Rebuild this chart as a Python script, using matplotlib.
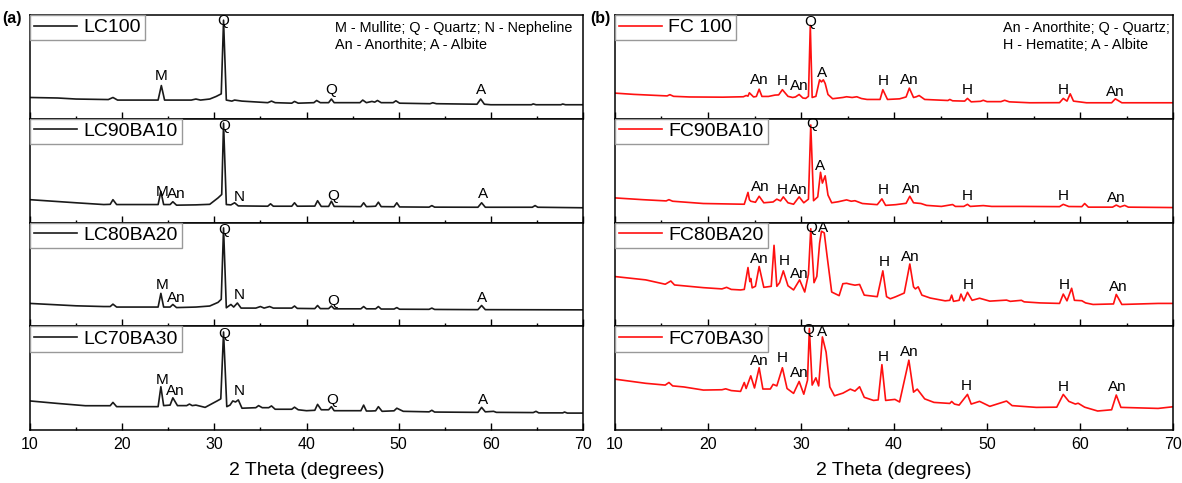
import matplotlib
matplotlib.use("Agg")
import matplotlib.pyplot as plt

plt.rcParams['font.family'] = ['Liberation Sans', 'DejaVu Sans']

# ---------------- data (2θ in degrees, intensity in % of panel height) ----------------
lc100_x = [10, 13, 15, 18.5, 19.0, 19.5, 23.9, 24.25, 24.6, 27.5, 28.0, 28.5, 29.5, 30.2, 30.75, 31.0, 31.3, 31.9, 32.2, 33,
           35.8, 36.2, 36.6, 38.4, 38.7, 39.1, 40.8, 41.1, 41.5, 42.4, 42.7, 43.0, 45.8, 46.1, 46.5, 47.1, 47.4, 47.7, 48.1,
           49.4, 49.7, 50.1, 53.4, 53.7, 54.1, 58.5, 58.9, 59.3, 60, 64.4, 64.6, 64.9, 67.6, 67.8, 68.1, 70]
lc100_y = [20.5, 20, 19, 18.5, 20.5, 18, 18, 32, 18, 18, 19, 18, 19, 21.5, 24, 95, 18, 17, 18, 17,
           15.5, 17, 15.5, 15, 16.7, 15, 15.5, 17.6, 15.5, 15.5, 19, 15.5, 15.5, 18, 15.5, 16.7, 16, 17.6, 15.5,
           15.5, 17.3, 15, 14.5, 15.4, 14.5, 14, 19, 14, 13.5, 13.5, 14.3, 13.5, 13.5, 14.2, 13.5, 13.5]

lc90_x = [10, 15, 18, 18.7, 19.0, 19.4, 23.9, 24.2, 24.5, 25.2, 25.5, 25.9, 28, 29.5, 30.4, 30.8, 31.0, 31.3, 31.8, 32.2,
          32.6, 35.8, 36.1, 36.4, 38.4, 38.7, 39.0, 40.9, 41.2, 41.6, 42.4, 42.7, 43.0, 45.9, 46.2, 46.5, 47.1, 47.5, 47.8,
          48.1, 49.5, 49.8, 50.1, 53.3, 53.6, 53.9, 58.6, 59.0, 59.4, 64.5, 64.8, 65.1, 70]
lc90_y = [22, 19, 17.3, 17.5, 22, 17.3, 17.3, 30, 17.3, 17.3, 20, 16.7, 17, 17.5, 23.7, 27, 95.8, 17.3, 17, 19,
          16, 15.7, 18, 15.7, 15.7, 19, 15.7, 15.8, 21, 15.5, 15.5, 20.5, 15.5, 15.3, 19, 15.3, 15.5, 15.7, 19.6,
          15.3, 15.2, 19, 15, 14.8, 16.3, 14.8, 14.7, 19, 14.7, 14.7, 16.3, 14.7, 14.2]

lc80_x = [10, 15, 18, 18.7, 19.0, 19.4, 23.9, 24.2, 24.5, 25.2, 25.5, 25.9, 28, 29.5, 30.4, 30.75, 31.0, 31.3, 31.8, 32.1,
          32.5, 32.9, 34.5, 35.0, 35.4, 36.0, 36.4, 38.4, 38.7, 39.0, 40.9, 41.2, 41.5, 42.4, 42.7, 43.0, 45.9, 46.2, 46.5,
          47.5, 47.8, 48.1, 49.5, 49.8, 50.1, 53.3, 53.6, 53.9, 58.6, 59.0, 59.4, 70]
lc80_y = [22, 19.7, 19, 19, 21.3, 18.5, 18.5, 31.7, 18.5, 18.5, 21, 18, 18.5, 19.5, 23, 26, 94.8, 17.8, 21, 18.5,
          22.4, 17.5, 17.5, 19, 17.5, 19, 17.5, 17.5, 19.5, 17.2, 17, 20, 17, 17, 19.5, 16.8, 16.8, 19, 16.8,
          16.8, 19, 16.6, 16.6, 18, 16.4, 16.3, 17.5, 16.2, 16, 20, 16, 15.8]

lc70_x = [10, 13, 16, 18.7, 19.0, 19.4, 22, 23.9, 24.2, 24.5, 25.2, 25.5, 26.0, 27.0, 27.3, 27.6, 28.0, 29.0, 30.3, 30.7,
          31.0, 31.35, 31.7, 32.0, 32.3, 32.6, 33.0, 34.5, 34.8, 35.2, 35.9, 36.2, 36.6, 38.4, 38.7, 39.1, 40.0, 40.9,
          41.2, 41.6, 42.4, 42.7, 43.0, 45.9, 46.2, 46.5, 47.0, 47.5, 47.8, 48.2, 49.5, 49.8, 50.5, 53.3, 53.6, 53.9,
          58.6, 59.0, 59.4, 60.3, 60.6, 64.6, 64.9, 65.2, 67.8, 68.0, 68.3, 70]
lc70_y = [28, 25.6, 23.4, 23.4, 26.6, 22.5, 22.5, 22.5, 41.7, 23.5, 24, 31, 23.5, 23.5, 25, 23.5, 24, 21.8, 28, 30,
          94.5, 22.5, 24, 28, 27, 29, 21, 21.5, 23.5, 21.5, 21.5, 23.2, 20, 20, 22, 19.5, 18.6, 19,
          24.7, 19.5, 19.5, 22.5, 18.6, 18.6, 24, 18.3, 18.3, 18.5, 22.5, 18, 18.5, 21, 18, 17.5, 19, 17.3,
          17, 21.8, 17.5, 18, 17, 16.8, 18, 16.5, 16.5, 17.3, 16.3, 16.3]

fc100_x = [10, 12, 15.6, 15.9, 16.3, 18, 21.6, 23.8, 24.1, 24.3, 24.45, 24.9, 25.2, 25.5, 25.8, 26.5, 27.2, 27.6, 28.0,
           28.6, 29.1, 29.4, 29.8, 30.2, 30.5, 30.8, 31.0, 31.2, 31.6, 32.0, 32.2, 32.4, 32.6, 32.9, 33.4, 34.5, 34.9,
           35.5, 36.0, 36.5, 37.1, 38.5, 38.8, 39.3, 40.6, 41.3, 41.65, 42.1, 42.4, 42.7, 43.3, 45.8, 46.0, 46.3, 47.6,
           47.9, 48.3, 49.3, 49.6, 50.0, 51.5, 51.9, 52.4, 54.6, 57.8, 58.2, 58.6, 58.95, 59.3, 60.7, 63.4, 63.8, 64.5, 70]
fc100_y = [24.7, 23.5, 22, 23.2, 21.6, 21, 20.8, 21.2, 22.4, 21.8, 25, 21, 21.5, 28.5, 21.5, 21.5, 22.8, 23, 28,
           21.6, 20.5, 21, 23.4, 20, 19.6, 21.6, 90, 20.5, 21.6, 37.5, 35.5, 37.5, 34, 23.4, 19.3, 20.5, 21.2,
           20.5, 21.2, 19.5, 18.6, 18.6, 28, 18.6, 19.2, 21, 29.5, 20.5, 21.2, 22.4, 18.6, 17.6, 18.6, 17.3, 17,
           19.6, 16.3, 16.8, 17.8, 16.5, 16.5, 17.8, 16.3, 15.4, 15.5, 19.6, 17, 24, 17, 15.4, 15.4, 19.2, 15.4, 15.4]

fc90_x = [10, 13, 15.5, 15.8, 16.2, 19.5, 23.9, 24.3, 24.45, 24.6, 25.1, 25.5, 26.0, 27.0, 27.4, 27.8, 28.1, 28.6, 29.2,
          29.8, 30.3, 30.8, 31.05, 31.35, 31.8, 32.1, 32.3, 32.6, 32.9, 33.3, 34.0, 34.9, 35.4, 35.8, 36.6, 38.2, 38.7,
          39.1, 40.2, 41.3, 41.7, 42.1, 42.9, 43.5, 45.1, 46.3, 46.6, 47.5, 47.9, 48.2, 49.6, 50.5, 53.7, 57.8, 58.2,
          58.8, 60.2, 60.5, 60.9, 63.5, 63.9, 64.3, 64.8, 65.2, 70]
fc90_y = [23.7, 22, 20.8, 22, 20.5, 18.3, 17.6, 29, 22, 20.5, 19.5, 25.3, 19, 19.8, 22.5, 20.8, 24.7, 19, 17.6,
          24.7, 19, 22.5, 94, 21, 24.7, 48.4, 38, 45, 26.5, 19, 20, 21.8, 20.5, 21, 18.3, 17.2, 22.8,
          16.5, 17.2, 18.5, 25.3, 19, 18.3, 16.5, 15.5, 17.3, 15.5, 15.5, 17.5, 15.5, 16.3, 15.5, 15.5, 15.3, 17.5,
          15.4, 15.3, 18.3, 14.8, 14.8, 16.8, 15, 16.5, 14.8, 14.4]

fc80_x = [10, 13.3, 15.4, 16.0, 16.4, 19.5, 21.5, 22.0, 22.5, 23.5, 23.9, 24.3, 24.5, 24.6, 24.75, 25.1, 25.5, 26.0,
          26.8, 27.1, 27.4, 27.7, 28.1, 28.6, 29.2, 29.85, 30.4, 30.8, 31.05, 31.4, 31.7, 32.0, 32.2, 32.5, 32.8, 33.3,
          34.1, 34.5, 34.9, 35.3, 35.8, 36.3, 36.8, 38.2, 38.8, 39.2, 39.6, 40.0, 40.2, 41.1, 41.7, 42.1, 42.3, 42.6,
          43.0, 43.9, 45.5, 46.0, 46.2, 46.4, 47.0, 47.2, 47.5, 47.9, 48.4, 49.2, 50.3, 52.1, 52.5, 53.7, 54.0, 55.7,
          57.8, 58.2, 58.6, 59.1, 59.4, 60.2, 60.6, 61.4, 63.6, 63.9, 64.5, 68.4, 70]
fc80_y = [47.9, 44.7, 40.5, 43.6, 39.8, 37.2, 36, 37.5, 35.5, 35, 35.5, 56.6, 43, 46, 37, 38.5, 57.6, 37.5,
          38.5, 78, 38.5, 42, 53.4, 39, 35, 44.7, 33, 50, 94, 42, 48, 80, 91.6, 90, 68, 33,
          29.5, 41, 41.4, 40.5, 39.6, 40.3, 30, 28.5, 53.4, 28.5, 26.5, 27.8, 28.5, 32, 60, 38, 36, 38,
          30, 27.2, 24.5, 25, 30, 24, 25, 31, 24.5, 32.7, 25, 27, 24.2, 25.2, 24, 25, 23.5, 22.5,
          22, 31, 24.5, 36.6, 25, 24.6, 22.5, 21, 21.5, 30.7, 21, 22, 22]

fc70_x = [10, 13.3, 15.4, 15.8, 16.2, 17.4, 19.5, 21.5, 21.9, 22.5, 23.5, 23.9, 24.1, 24.6, 25.0, 25.5, 25.9, 26.7,
          27.0, 27.4, 28.0, 28.5, 29.2, 29.8, 30.3, 30.7, 30.9, 31.2, 31.6, 31.9, 32.3, 32.7, 33.1, 33.6, 34.5, 35.3,
          35.8, 36.3, 36.8, 37.8, 38.3, 38.7, 39.1, 40.1, 40.6, 41.6, 42.1, 42.5, 43.3, 44.3, 46.0, 46.2, 46.5, 47.0,
          47.9, 48.3, 49.2, 50.3, 52.1, 52.7, 55.3, 57.5, 58.2, 58.8, 59.5, 59.8, 60.5, 61.9, 63.4, 63.9, 64.4, 68.4, 70]
fc70_y = [49, 45, 43.3, 45.8, 42.5, 41.5, 38.5, 38.8, 39.7, 38, 37.2, 45.8, 40, 52.2, 40.5, 60, 39.5, 39.5,
          44, 42.5, 60, 40, 35.3, 46.8, 34.5, 48, 97.8, 43.3, 50.3, 42.5, 89.7, 75, 41.5, 33, 35.5, 39.4,
          37.5, 41.7, 31.5, 28.5, 29, 63, 28.5, 29.5, 27, 67.3, 36.5, 39.4, 30, 26.6, 25.6, 27.5, 25, 24,
          34.3, 25, 27.6, 22.8, 27.9, 23.5, 21.8, 22, 34.3, 27.6, 25, 25.8, 22, 18.3, 19.5, 33.7, 21.8, 20.8, 22.4]

lc_names = ['LC100', 'LC90BA10', 'LC80BA20', 'LC70BA30']
fc_names = ['FC 100', 'FC90BA10', 'FC80BA20', 'FC70BA30']

# peak labels: (text, 2θ, height %)
lc_labels = [
    [('M', 24.2, 41), ('Q', 31.0, 94), ('Q', 42.7, 28), ('A', 58.9, 28)],
    [('M', 24.3, 29), ('An', 25.9, 27), ('Q', 31.1, 93), ('N', 32.7, 25), ('Q', 42.9, 26), ('A', 59.1, 27)],
    [('M', 24.3, 40), ('An', 25.9, 27.5), ('Q', 31.1, 93), ('N', 32.7, 30), ('Q', 42.9, 24.3), ('A', 59.0, 27)],
    [('M', 24.3, 48), ('An', 25.8, 37.5), ('Q', 31.1, 93), ('N', 32.7, 37.5), ('Q', 42.8, 28.8), ('A', 59.1, 28.8)],
]
fc_labels = [
    [('An', 25.5, 37.5), ('H', 28.0, 36), ('An', 29.8, 31.7), ('Q', 31.0, 93.6), ('A', 32.3, 44.5),
     ('H', 38.8, 36.5), ('An', 41.6, 37.5), ('H', 47.9, 28), ('H', 58.2, 28), ('An', 63.8, 26)],
    [('An', 25.6, 34.3), ('H', 28.0, 31.7), ('An', 29.7, 31.7), ('Q', 31.2, 95), ('A', 32.1, 54.8),
     ('H', 38.8, 31.7), ('An', 41.9, 32.4), ('H', 47.9, 25.3), ('H', 58.2, 25.3), ('An', 63.9, 23.3)],
    [('An', 25.5, 65), ('H', 28.2, 62.5), ('An', 29.8, 50), ('Q', 31.1, 94.8), ('A', 32.4, 94.8),
     ('H', 38.9, 61.5), ('An', 41.7, 66.3), ('H', 48.0, 39.8), ('H', 58.3, 39.8), ('An', 64.1, 38.2)],
    [('An', 25.5, 66.3), ('H', 28.0, 69), ('An', 29.8, 54.5), ('Q', 30.8, 96), ('A', 32.3, 94),
     ('H', 38.8, 70.5), ('An', 41.6, 75.3), ('H', 47.8, 42.6), ('H', 58.2, 41.7), ('An', 64.0, 41.7)],
]

lc_series = [(lc100_x, lc100_y), (lc90_x, lc90_y), (lc80_x, lc80_y), (lc70_x, lc70_y)]
fc_series = [(fc100_x, fc100_y), (fc90_x, fc90_y), (fc80_x, fc80_y), (fc70_x, fc70_y)]

xticks_major = [10, 20, 30, 40, 50, 60, 70]
xticks_minor = [15, 25, 35, 45, 55, 65]

# ---------------- figure ----------------
fig = plt.figure(figsize=(11.82, 4.83), dpi=100)

top, bottom = 1 - 15 / 483, 1 - 430 / 483
h = (top - bottom) / 4
panels = [(30 / 1182, 553 / 1182, lc_series, lc_names, lc_labels, '#1a1a1a',
           'M - Mullite; Q - Quartz; N - Nepheline\nAn - Anorthite; A - Albite', 335 / 1182),
          (615 / 1182, 558 / 1182, fc_series, fc_names, fc_labels, '#ff1010',
           'An - Anorthite; Q - Quartz;\nH - Hematite; A - Albite', 1003 / 1182)]

for (x0, w, series, names, labels, color, note, note_x) in panels:
    for i in range(4):
        ax = fig.add_axes([x0, top - (i + 1) * h, w, h])
        sx, sy = series[i]
        ax.plot(sx, sy, color=color, lw=1.2, label=names[i])
        ax.set_xlim(10, 70)
        ax.set_ylim(0, 100)
        ax.set_yticks([])
        ax.set_xticks(xticks_major)
        ax.set_xticks(xticks_minor, minor=True)
        ax.tick_params(axis='x', which='major', direction='in', length=5, width=1, labelsize=11.5, pad=5)
        ax.tick_params(axis='x', which='minor', direction='in', length=2.5, width=1)
        if i < 3:
            ax.tick_params(axis='x', labelbottom=False)
        for sp in ax.spines.values():
            sp.set_linewidth(1.1)
        for (t, tx, ty) in labels[i]:
            ax.text(tx, ty, t, ha='center', va='center', fontsize=11)
        leg = ax.legend(loc='upper left', fontsize=14, handlelength=2.2, handletextpad=0.35,
                        borderpad=0.2, borderaxespad=0, fancybox=False, framealpha=1)
        leg.get_frame().set_edgecolor('#999999')
        leg.get_frame().set_linewidth(1.0)
        if i == 3:
            ax.set_xlabel('2 Theta (degrees)', fontsize=14, labelpad=7)
    fig.text(note_x, 1 - 21 / 483, note, ha='left', va='top', fontsize=10.4, linespacing=1.3)

fig.text(2 / 1182, 1 - 18 / 483, '(a)', fontsize=11.5, fontweight='bold', va='center', ha='left')
fig.text(590 / 1182, 1 - 18 / 483, '(b)', fontsize=11.5, fontweight='bold', va='center', ha='left')

fig.savefig('out.png', dpi=100)
